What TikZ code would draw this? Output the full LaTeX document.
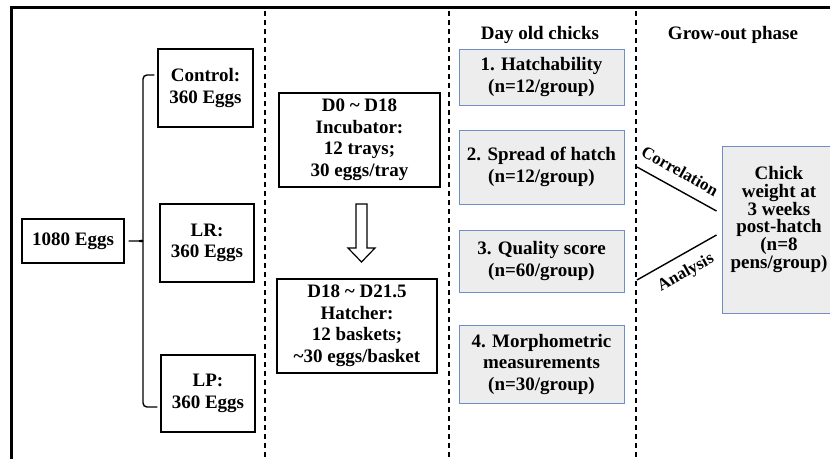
\documentclass[tikz,border=0pt]{standalone}
\usepackage{fontspec}
\setmainfont{Liberation Serif}
\usetikzlibrary{calc}
\definecolor{boxblue}{HTML}{6F8FC4}
\definecolor{boxgray}{HTML}{EDEDED}
\tikzset{
  txt/.style={font=\fontsize{19}{21.5}\selectfont\bfseries, align=center, inner sep=0pt},
  blackbox/.style={txt, draw=black, line width=1.4pt, fill=white},
  bluebox/.style={txt, draw=boxblue, line width=1pt, fill=boxgray},
  divider/.style={line width=2pt, dash pattern=on 5pt off 4pt},
  frame/.style={line width=3pt},
  link/.style={line width=1.4pt},
  slanted/.style={font=\fontsize{17}{19}\selectfont\bfseries, inner sep=0pt}
}
\begin{document}
\begin{tikzpicture}[x=1pt,y=-1pt]
\clip (0,0) rectangle (830,458);
\fill[white] (0,0) rectangle (830,458);
% frame
\draw[frame] (11.5,470) -- (11.5,7.5) -- (840,7.5);
% dividers
\draw[divider] (265,11) -- (265,458);
\draw[divider] (449,11) -- (449,458);
\draw[divider] (636,11) -- (636,458);
% left column
\node[blackbox, minimum width=102pt, minimum height=44pt] (total) at (73,241) {1080 Eggs};
\node[blackbox, minimum width=95pt, minimum height=78pt] (ctrl) at (205.5,88) {Control:\\360 Eggs};
\node[blackbox, minimum width=94pt, minimum height=78pt] (lr) at (207,243) {LR:\\360 Eggs};
\node[blackbox, minimum width=94pt, minimum height=77pt] (lp) at (208,393.5) {LP:\\360 Eggs};
% brace
\coordinate (btop) at ($(ctrl.west)+(-3,-13)$);
\coordinate (bbot) at ($(lp.west)+(-3,13.5)$);
\coordinate (bmid) at (143,241);
\draw[link, rounded corners=4pt] (btop) -- (143,75) -- (143,407) -- (bbot);
\draw[link] ($(total.east)+(4,0)$) -- (139,241) to[out=0,in=-90] (bmid);
\draw[link] (139,241) to[out=0,in=90] (bmid);
% incubation column
\node[blackbox, minimum width=161pt, minimum height=94pt] (inc) at (359.5,140) {D0 \textasciitilde{} D18\\Incubator:\\12 trays;\\30 eggs/tray};
\node[blackbox, minimum width=160pt, minimum height=94pt] (hat) at (357,326) {D18 \textasciitilde{} D21.5\\Hatcher:\\12 baskets;\\\textasciitilde30 eggs/basket};
\draw[line width=1.2pt, fill=white] (356,204) -- (367,204) -- (367,248) -- (375,248) -- (361.5,262) -- (348,248) -- (356,248) -- cycle;
% day old chicks column
\node[txt] (dtitle) at (540,35) {Day old chicks};
\node[bluebox, minimum width=165pt, minimum height=56pt] (b1) at (541.5,77) {1. Hatchability\\(n=12/group)};
\node[bluebox, minimum width=165pt, minimum height=74pt] (b2) at (541.5,167) {2. Spread of hatch\\(n=12/group)};
\node[bluebox, minimum width=165pt, minimum height=62pt] (b3) at (541.5,261) {3. Quality score\\(n=60/group)};
\node[bluebox, minimum width=165pt, minimum height=78pt] (b4) at (541.5,364) {4. Morphometric\\measurements\\(n=30/group)};
% grow-out column
\node[txt] (gtitle) at (733,35) {Grow-out phase};
\node[bluebox, minimum width=114pt, minimum height=167pt] (chick) at (779,229.5) {};
\node[txt, font=\fontsize{19}{17.8}\selectfont\bfseries] (chicktxt) at ($(chick.center)+(0,-10)$) {Chick\\weight at\\3 weeks\\post-hatch\\(n=8\\pens/group)};
\coordinate (c1) at (637,167);
\coordinate (c2) at ($(chick.west)+(-5,-18.5)$);
\coordinate (a1) at (637,280);
\coordinate (a2) at ($(chick.west)+(-5,5.5)$);
\draw[link] (c1) -- (c2);
\draw[link] (a1) -- (a2);
\node[slanted, rotate=-29] (corr) at (680,171) {Correlation};
\node[slanted, rotate=29] (anal) at (686,273) {Analysis};
\end{tikzpicture}
\end{document}
